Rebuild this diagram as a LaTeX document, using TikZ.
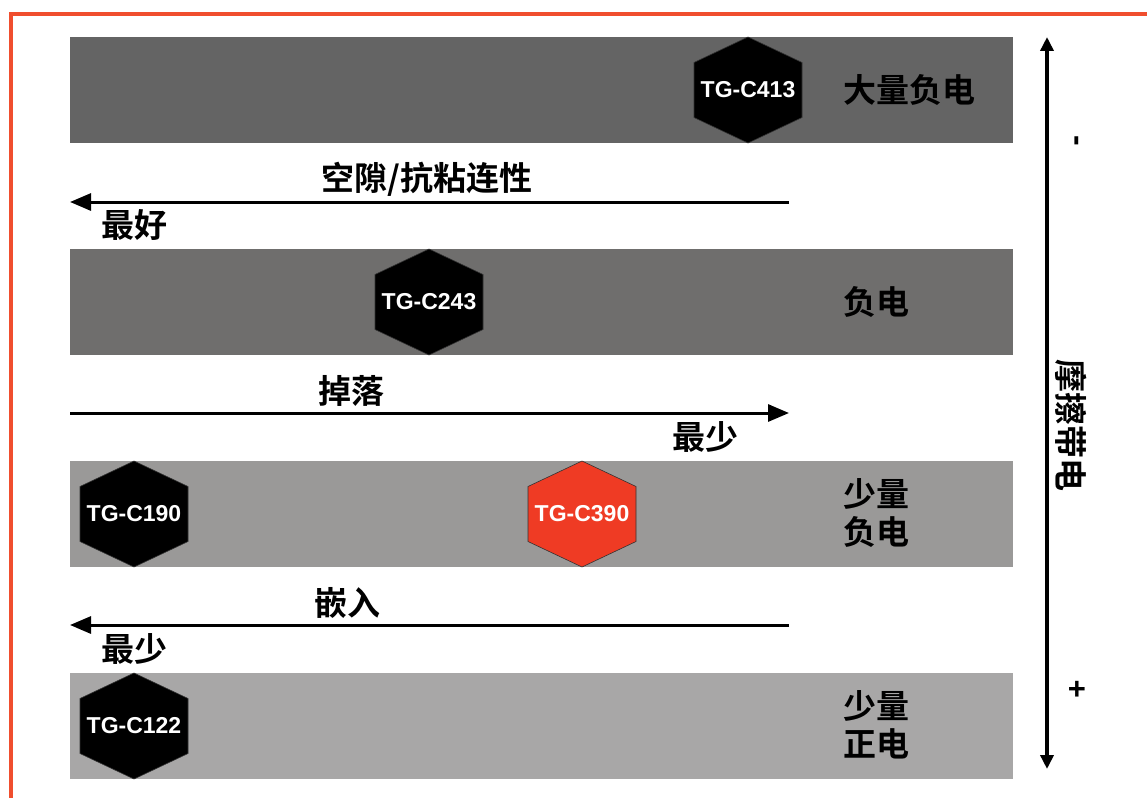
\documentclass[tikz,border=0pt]{standalone}
\usepackage{fontspec}
\setmainfont{Liberation Sans}
\newfontfamily\cjk{Noto Sans CJK SC}[BoldFont={* Bold}]
\usetikzlibrary{arrows.meta}
\definecolor{frameC}{HTML}{F04E2E}
\definecolor{bandA}{HTML}{646464}
\definecolor{bandB}{HTML}{6F6E6D}
\definecolor{bandC}{HTML}{9A9998}
\definecolor{bandD}{HTML}{A8A7A7}
\definecolor{hexRed}{HTML}{EF3B24}
\begin{document}
\begin{tikzpicture}[x=1pt,y=-1pt,
  hexlab/.style={text=white,font=\fontsize{23}{25}\selectfont\bfseries},
  cjklab/.style={font=\cjk\bfseries\fontsize{33}{41}\selectfont,inner sep=0pt},
  flow/.style={line width=3pt,-{Triangle[length=21pt,width=17pt]}},
]
\useasboundingbox (0,0) rectangle (1147,797);
\begin{scope}
\clip (0,0) rectangle (1147,797);
\draw[frameC,line width=4pt] (11,14) rectangle (1170,820);
\end{scope}
% bands
\fill[bandA] (70,37) rectangle (1013,143);
\fill[bandB] (70,249) rectangle (1013,355);
\fill[bandC] (70,461) rectangle (1013,567);
\fill[bandD] (70,673) rectangle (1013,779);
% hexagons
\newcommand{\hexa}[4]{%
  \fill[#3,draw=black!80,line width=0.6pt] (#1,#2-53) -- (#1+54,#2-27.5) -- (#1+54,#2+27.5) -- (#1,#2+53) -- (#1-54,#2+27.5) -- (#1-54,#2-27.5) -- cycle;
  \node[hexlab] at (#1,#2) {#4};}
\hexa{748}{90}{black}{TG-C413}
\hexa{429}{302}{black}{TG-C243}
\hexa{134}{514}{black}{TG-C190}
\hexa{582}{514}{hexRed}{TG-C390}
\hexa{134}{726}{black}{TG-C122}
% flow arrows
\coordinate (a1r) at (789,202); \coordinate (a1l) at (70,202);
\coordinate (a2l) at (70,413); \coordinate (a2r) at (789,413);
\coordinate (a3r) at (789,625); \coordinate (a3l) at (70,625);
\draw[flow] (a1r) -- (a1l);
\draw[flow] (a2l) -- (a2r);
\draw[flow] (a3r) -- (a3l);
\node[cjklab] (t1) at (427,179) {空隙/抗粘连性};
\node[cjklab] (t1b) at (134,225) {最好};
\node[cjklab] (t2) at (351,391) {掉落};
\node[cjklab] (t2b) at (705,437) {最少};
\node[cjklab] (t3) at (347,603) {嵌入};
\node[cjklab] (t3b) at (134,649) {最少};
% right labels
\node[cjklab,anchor=west] (r1) at (843,90) {大量负电};
\node[cjklab,anchor=west] (r2) at (843,302) {负电};
\node[cjklab,anchor=west,align=left] (r3) at (843,513) {少量\\[-3pt]负电};
\node[cjklab,anchor=west,align=left] (r4) at (843,725) {少量\\[-3pt]正电};
% vertical axis
\coordinate (vt) at (1047,37); \coordinate (vb) at (1047,769);
\draw[line width=4pt,{Triangle[length=14pt,width=13pt]}-{Triangle[length=14pt,width=13pt]}] (vt) -- (vb);
\node[cjklab,rotate=-90] (vlab) at (1071,425) {摩擦带电};
\node[rotate=-90,font=\fontsize{32}{32}\selectfont\bfseries] (minus) at (1074,141) {-};
\node[font=\fontsize{31}{31}\selectfont\bfseries] (plus) at (1077,690) {+};
\end{tikzpicture}
\end{document}
